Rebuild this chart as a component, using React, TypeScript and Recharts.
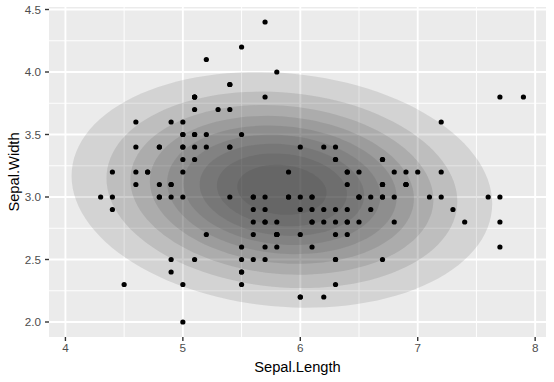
import { ComposedChart, XAxis, YAxis, CartesianGrid, Area, Scatter, Label } from 'recharts';

// iris: Sepal.Length / Sepal.Width
const sepalLength = [
  5.1, 4.9, 4.7, 4.6, 5.0, 5.4, 4.6, 5.0, 4.4, 4.9, 5.4, 4.8, 4.8, 4.3, 5.8, 5.7, 5.4, 5.1, 5.7, 5.1,
  5.4, 5.1, 4.6, 5.1, 4.8, 5.0, 5.0, 5.2, 5.2, 4.7, 4.8, 5.4, 5.2, 5.5, 4.9, 5.0, 5.5, 4.9, 4.4, 5.1,
  5.0, 4.5, 4.4, 5.0, 5.1, 4.8, 5.1, 4.6, 5.3, 5.0,
  7.0, 6.4, 6.9, 5.5, 6.5, 5.7, 6.3, 4.9, 6.6, 5.2, 5.0, 5.9, 6.0, 6.1, 5.6, 6.7, 5.6, 5.8, 6.2, 5.6,
  5.9, 6.1, 6.3, 6.1, 6.4, 6.6, 6.8, 6.7, 6.0, 5.7, 5.5, 5.5, 5.8, 6.0, 5.4, 6.0, 6.7, 6.3, 5.6, 5.5,
  5.5, 6.1, 5.8, 5.0, 5.6, 5.7, 5.7, 6.2, 5.1, 5.7,
  6.3, 5.8, 7.1, 6.3, 6.5, 7.6, 4.9, 7.3, 6.7, 7.2, 6.5, 6.4, 6.8, 5.7, 5.8, 6.4, 6.5, 7.7, 7.7, 6.0,
  6.9, 5.6, 7.7, 6.3, 6.7, 7.2, 6.2, 6.1, 6.4, 7.2, 7.4, 7.9, 6.4, 6.3, 6.1, 7.7, 6.3, 6.4, 6.0, 6.9,
  6.7, 6.9, 5.8, 6.8, 6.7, 6.7, 6.3, 6.5, 6.2, 5.9,
];
const sepalWidth = [
  3.5, 3.0, 3.2, 3.1, 3.6, 3.9, 3.4, 3.4, 2.9, 3.1, 3.7, 3.4, 3.0, 3.0, 4.0, 4.4, 3.9, 3.5, 3.8, 3.8,
  3.4, 3.7, 3.6, 3.3, 3.4, 3.0, 3.4, 3.5, 3.4, 3.2, 3.1, 3.4, 4.1, 4.2, 3.1, 3.2, 3.5, 3.6, 3.0, 3.4,
  3.5, 2.3, 3.2, 3.5, 3.8, 3.0, 3.8, 3.2, 3.7, 3.3,
  3.2, 3.2, 3.1, 2.3, 2.8, 2.8, 3.3, 2.4, 2.9, 2.7, 2.0, 3.0, 2.2, 2.9, 2.9, 3.1, 3.0, 2.7, 2.2, 2.5,
  3.2, 2.8, 2.5, 2.8, 2.9, 3.0, 2.8, 3.0, 2.9, 2.6, 2.4, 2.4, 2.7, 2.7, 3.0, 3.4, 3.1, 2.3, 3.0, 2.5,
  2.6, 3.0, 2.6, 2.3, 2.7, 3.0, 2.9, 2.9, 2.5, 2.8,
  3.3, 2.7, 3.0, 2.9, 3.0, 3.0, 2.5, 2.9, 2.5, 3.6, 3.2, 2.7, 3.0, 2.5, 2.8, 3.2, 3.0, 3.8, 2.6, 2.2,
  3.2, 2.8, 2.8, 2.7, 3.3, 3.2, 2.8, 3.0, 2.8, 3.0, 2.8, 3.8, 2.8, 2.8, 2.6, 3.0, 3.4, 3.1, 3.0, 3.1,
  3.1, 3.1, 2.7, 3.2, 3.3, 3.0, 2.5, 3.0, 3.4, 3.0,
];

const ellipseLevels = [0.1, 0.2, 0.3, 0.4, 0.5, 0.6, 0.7, 0.8, 0.9];

const xTicks = [4, 5, 6, 7, 8];
const xMinor = [4.5, 5.5, 6.5, 7.5];
const yTicks = [2.0, 2.5, 3.0, 3.5, 4.0, 4.5];
const yMinor = [2.25, 2.75, 3.25, 3.75, 4.25];

const points = sepalLength.map((x, i) => ({ x, y: sepalWidth[i] }));

// normal-theory ellipse (mean + sample covariance)
const n = points.length;
const cx = sepalLength.reduce((a, b) => a + b, 0) / n;
const cy = sepalWidth.reduce((a, b) => a + b, 0) / n;
let sxx = 0, sxy = 0, syy = 0;
points.forEach((p) => {
  sxx += (p.x - cx) ** 2;
  sxy += (p.x - cx) * (p.y - cy);
  syy += (p.y - cy) ** 2;
});
sxx /= n - 1; sxy /= n - 1; syy /= n - 1;

const r11 = Math.sqrt(sxx);
const r12 = sxy / r11;
const r22 = Math.sqrt(syy - r12 * r12);
const dfd = n - 1;
// sqrt(2 * qf(level, 2, dfd))
const radiusFor = (level: number) => Math.sqrt(2 * (dfd / 2) * (Math.pow(1 - level, -2 / dfd) - 1));

const SEG = 60;
const ellipses = ellipseLevels.map((level) => {
  const r = radiusFor(level);
  const out: { x: number; range: [number, number] }[] = [];
  for (let k = 0; k <= SEG; k++) {
    const t = (Math.PI * k) / SEG;
    const c = -Math.cos(t);
    const s = Math.sin(t);
    out.push({
      x: cx + r * c * r11,
      range: [cy + r * (c * r12 - s * r22), cy + r * (c * r12 + s * r22)],
    });
  }
  return out;
});

const expand = (vals: number[]): [number, number] => {
  const lo = Math.min(...vals);
  const hi = Math.max(...vals);
  const d = (hi - lo) * 0.05;
  return [lo - d, hi + d];
};
const xDomain = expand([...sepalLength, ...ellipses.flat().map((p) => p.x)]);
const yDomain = expand([...sepalWidth, ...ellipses.flat().flatMap((p) => p.range)]);

const font = "'Liberation Sans', Arial, sans-serif";

export default function App() {
  return (
    <div style={{ position: 'absolute', left: 0, top: 0, background: '#fff' }}>
      <ComposedChart width={554} height={382} margin={{ top: 7, right: 8, left: 0, bottom: 0 }}>
        <CartesianGrid fill="#EBEBEB" stroke="#FFFFFF" strokeWidth={0.95} verticalValues={xMinor} horizontalValues={yMinor} />
        <CartesianGrid stroke="#FFFFFF" strokeWidth={1.9} verticalValues={xTicks} horizontalValues={yTicks} />
        <XAxis
          type="number"
          dataKey="x"
          domain={xDomain}
          allowDataOverflow
          ticks={xTicks}
          interval={0}
          height={45}
          axisLine={false}
          tickSize={4}
          tickMargin={3}
          tickLine={{ stroke: '#333333', strokeWidth: 1.4 }}
          tick={{ fill: '#4D4D4D', fontSize: 11.7, fontFamily: font }}
        >
          <Label
            content={(props: any) => {
              const vb = props.viewBox || {};
              return (
                <text x={vb.x + vb.width / 2} y={vb.y + 35} textAnchor="middle" fontSize={14.7} fontFamily={font} fill="#000">
                  Sepal.Length
                </text>
              );
            }}
          />
        </XAxis>
        <YAxis
          type="number"
          dataKey="y"
          domain={yDomain}
          allowDataOverflow
          ticks={yTicks}
          interval={0}
          width={49}
          axisLine={false}
          tickSize={4}
          tickMargin={4}
          tickFormatter={(v: number) => v.toFixed(1)}
          tickLine={{ stroke: '#333333', strokeWidth: 1.4 }}
          tick={{ fill: '#4D4D4D', fontSize: 11.7, fontFamily: font }}
        >
          <Label
            content={(props: any) => {
              const vb = props.viewBox || {};
              const x = vb.x + 19;
              const y = vb.y + vb.height / 2;
              return (
                <text x={x} y={y} transform={`rotate(-90 ${x} ${y})`} textAnchor="middle" fontSize={14.7} fontFamily={font} fill="#000">
                  Sepal.Width
                </text>
              );
            }}
          />
        </YAxis>
        {ellipses.map((e, i) => (
          <Area
            key={i}
            data={e}
            dataKey="range"
            type="linear"
            stroke="none"
            fill="#333333"
            fillOpacity={0.125}
            dot={false}
            activeDot={false}
            isAnimationActive={false}
          />
        ))}
        <Scatter
          data={points}
          dataKey="y"
          isAnimationActive={false}
          shape={(p: any) => <circle cx={p.cx} cy={p.cy} r={2.6} fill="#000" />}
        />
      </ComposedChart>
    </div>
  );
}
